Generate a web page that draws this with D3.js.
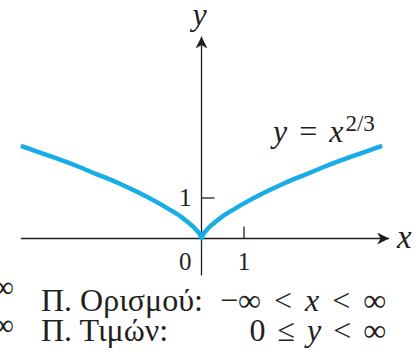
<!DOCTYPE html>
<html>
<head>
<meta charset="utf-8">
<script src="https://cdn.jsdelivr.net/npm/d3@7"></script>
</head>
<body style="margin:0;background:#fff">
<svg id="chart" width="418" height="354" style="display:block"></svg>
<script>
// Sample points of the curve y = x^(2/3)
const xs = [-4.3, -4, -3.5, -3, -2.5, -2, -1.5, -1, -0.75, -0.5, -0.35, -0.2, -0.1, -0.05, -0.02, 0,
            0.02, 0.05, 0.1, 0.2, 0.35, 0.5, 0.75, 1, 1.5, 2, 2.5, 3, 3.5, 4, 4.3];
const ys = [2.26, 2.15, 1.97, 1.78, 1.57, 1.36, 1.12, 0.85, 0.70, 0.54, 0.42, 0.29, 0.18, 0.12, 0.06, 0,
            0.06, 0.12, 0.18, 0.29, 0.42, 0.54, 0.70, 0.85, 1.12, 1.36, 1.57, 1.78, 1.97, 2.15, 2.26];

// Axis extents and ticks
const xAxisExtent = [-4.3, 4.49];
const yAxisExtent = [-0.9, 4.95];
const xTicks = [1];
const yTicks = [1];
const originLabel = "0";

// Text
const curveLabel = { base: "y", eq: " = ", v: "x", sup: "2/3" };
const domainRow = { name: "Π. Ορισμού:", parts: [["−∞ < ", false], ["x", true], [" < ∞", false]] };
const rangeRow  = { name: "Π. Τιμών:",   parts: [["0 ≤ ", false], ["y", true], [" < ∞", false]] };

const svg = d3.select("#chart");
const serif = '"Liberation Serif", "Times New Roman"';

const x = d3.scaleLinear().domain([0, 1]).range([201.5, 243.5]);
const y = d3.scaleLinear().domain([0, 1]).range([238.5, 197.5]);

const ink = "#231f20";
const blue = "#19ade6";

// Arrowhead marker
const defs = svg.append("defs");
defs.append("marker")
  .attr("id", "arrow")
  .attr("viewBox", "-12 -6 13 12")
  .attr("refX", 0).attr("refY", 0)
  .attr("markerWidth", 13).attr("markerHeight", 12)
  .attr("markerUnits", "userSpaceOnUse")
  .attr("orient", "auto")
  .append("path")
  .attr("d", "M0,0 L-12,-6 L-8.5,0 L-12,6 Z")
  .attr("fill", ink);

// X axis
const xAxisG = svg.append("g").attr("transform", `translate(0,${y(0)})`)
  .call(d3.axisBottom(x).tickValues(xTicks).tickSize(-12).tickPadding(14)
        .tickFormat(d3.format("d")));
xAxisG.attr("font-family", null).attr("font-size", null);
xAxisG.select(".domain").remove();
xAxisG.selectAll(".tick line").attr("stroke", ink).attr("stroke-width", 1.3);
xAxisG.selectAll(".tick text").attr("font-size", 25);

svg.append("line")
  .attr("x1", x(xAxisExtent[0])).attr("x2", x(xAxisExtent[1]) - 1)
  .attr("y1", y(0)).attr("y2", y(0))
  .attr("stroke", ink).attr("stroke-width", 1.3)
  .attr("marker-end", "url(#arrow)");

// Y axis
const yAxisG = svg.append("g").attr("transform", `translate(${x(0)},0)`)
  .call(d3.axisLeft(y).tickValues(yTicks).tickSize(-13).tickPadding(10)
        .tickFormat(d3.format("d")));
yAxisG.attr("font-family", null).attr("font-size", null);
yAxisG.select(".domain").remove();
yAxisG.selectAll(".tick line").attr("stroke", ink).attr("stroke-width", 1.3);
yAxisG.selectAll(".tick text").attr("font-size", 25);

svg.append("line")
  .attr("x1", x(0)).attr("x2", x(0))
  .attr("y1", y(yAxisExtent[0])).attr("y2", y(yAxisExtent[1]) + 1)
  .attr("stroke", ink).attr("stroke-width", 1.3)
  .attr("marker-end", "url(#arrow)");

// Origin label
svg.append("text").attr("x", x(0) - 10).attr("y", 270)
  .attr("text-anchor", "end").attr("font-size", 25).text(originLabel);

// Axis names
svg.append("text").attr("x", x(0) - 2).attr("y", 25)
  .attr("text-anchor", "middle").attr("font-size", 32).attr("font-style", "italic").text("y");
svg.append("text").attr("x", 397).attr("y", 248)
  .attr("font-size", 33).attr("font-style", "italic").text("x");

// Curve
const pts = xs.map((v, i) => [v, ys[i]]);
svg.append("path")
  .datum(pts)
  .attr("d", d3.line().x(d => x(d[0])).y(d => y(d[1])).curve(d3.curveCatmullRom.alpha(0.5)))
  .attr("fill", "none")
  .attr("stroke", blue)
  .attr("stroke-width", 4.5)
  .attr("stroke-linejoin", "round");

// Curve label y = x^(2/3)
const lab = svg.append("text").attr("x", 273).attr("y", 142).attr("font-size", 32)
  .style("white-space", "pre").style("word-spacing", "4px");
lab.append("tspan").attr("font-style", "italic").text(curveLabel.base);
lab.append("tspan").text(curveLabel.eq);
lab.append("tspan").attr("font-style", "italic").text(curveLabel.v);
lab.append("tspan").attr("font-size", 23).attr("dx", 2).attr("dy", -11).text(curveLabel.sup);

// Domain / range rows
function row(r, baseline, spacing) {
  svg.append("text").attr("x", 41).attr("y", baseline).attr("font-size", 32).text(r.name);
  const t = svg.append("text").attr("x", 386).attr("y", baseline)
    .attr("text-anchor", "end").attr("font-size", 32)
    .style("white-space", "pre").style("word-spacing", spacing + "px");
  r.parts.forEach(([s, it]) => {
    t.append("tspan").attr("font-style", it ? "italic" : "normal").text(s);
  });
}
row(domainRow, 311, 5);
row(rangeRow, 341, 4);

// Clipped symbols from the neighbouring column
svg.append("text").attr("x", 14).attr("y", 297).attr("text-anchor", "end").attr("font-size", 30).text("∞");
svg.append("text").attr("x", 14).attr("y", 335).attr("text-anchor", "end").attr("font-size", 30).text("∞");

// Serif face and ink colour for every label
svg.selectAll("text, tspan").style("font-family", serif).attr("fill", ink);
</script>
</body>
</html>
